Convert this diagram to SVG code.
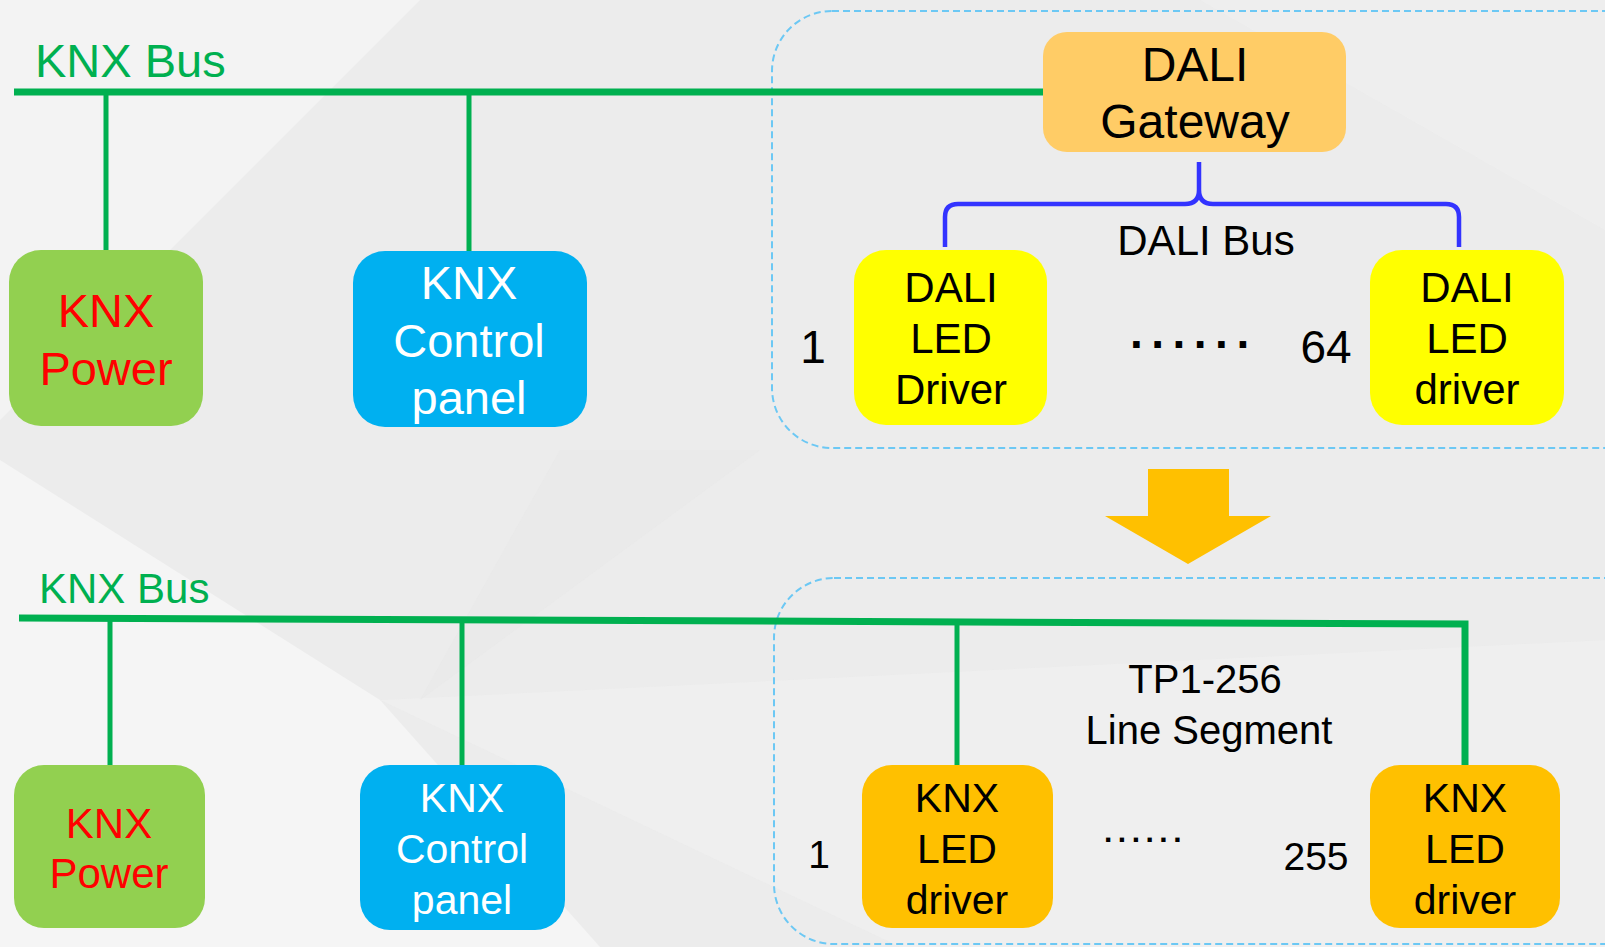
<svg xmlns="http://www.w3.org/2000/svg" width="1605" height="947" viewBox="0 0 1605 947">
<style>
text{font-family:"Liberation Sans",Arial,sans-serif;}
.bus{stroke:#00b050;stroke-width:7;fill:none;stroke-linecap:butt;}
.drop{stroke:#00b050;stroke-width:5;fill:none;}
.cont{fill:none;stroke:#6cc8f4;stroke-width:2;stroke-dasharray:7 4;}
.c{text-anchor:middle;}
.blk{fill:#000;}
.wht{fill:#fff;}
.red{fill:#ff0000;}
.grn{fill:#00b050;}
</style>
<rect width="1605" height="947" fill="#ececec"/>
<polygon points="0,0 420,0 0,420" fill="#f3f3f3"/>
<polygon points="0,460 0,947 600,947 380,700" fill="#f5f5f5"/>
<polygon points="380,700 900,947 1605,947 1605,640" fill="#f1f1f1" opacity="0.5"/>
<polygon points="560,450 760,450 420,700" fill="#e7e7e7" opacity="0.5"/>
<polygon points="760,0 1200,0 1605,230 1605,0" fill="#f0f0f0" opacity="0.7"/>
<g id="containers">
<rect class="cont" x="772" y="11" width="900" height="437" rx="60"/>
<rect class="cont" x="774" y="578" width="900" height="366" rx="60"/>
</g>
<g id="connectors">
<line class="bus" x1="14" y1="92" x2="1044" y2="92"/>
<line class="drop" x1="106" y1="92" x2="106" y2="251"/>
<line class="drop" x1="469" y1="92" x2="469" y2="252"/>
<path d="M1199,162 L1199,190 Q1199,204 1185,204 L958,204 Q945,204 945,217 L945,247 M1199,190 Q1199,204 1213,204 L1446,204 Q1459,204 1459,217 L1459,247" fill="none" stroke="#3333ff" stroke-width="4.5"/>
<polyline class="bus" points="19,618 1465,624 1465,768"/>
<line class="drop" x1="110" y1="619" x2="110" y2="766"/>
<line class="drop" x1="462" y1="620" x2="462" y2="766"/>
<line class="drop" x1="957" y1="621" x2="957" y2="766"/>
<polygon points="1148,469 1229,469 1229,516 1271,516 1188,564 1105,516 1148,516" fill="#ffc000"/>
</g>
<g id="labels">
<text class="grn" x="35" y="77" font-size="47">KNX Bus</text>
<text class="blk c" x="1206" y="255" font-size="42">DALI Bus</text>
<text class="blk c" x="813" y="363" font-size="46">1</text>
<text class="blk" x="1130" y="348" font-size="46" font-weight="bold" letter-spacing="8.5">......</text>
<text class="blk c" x="1326" y="363" font-size="46">64</text>
<text class="grn" x="39" y="603" font-size="42">KNX Bus</text>
<text class="blk c" x="1205" y="693" font-size="40">TP1-256</text>
<text class="blk c" x="1209" y="744" font-size="40">Line Segment</text>
<text class="blk c" x="819" y="868" font-size="39">1</text>
<text class="blk" x="1104" y="842" font-size="30" font-weight="bold" letter-spacing="5.5">......</text>
<text class="blk c" x="1316" y="870" font-size="39">255</text>
</g>
<g id="knx-power-1">
<rect x="9" y="250" width="194" height="176" rx="32" fill="#92d050"/>
<text class="red c" x="106" y="327" font-size="47">KNX</text>
<text class="red c" x="106" y="385" font-size="47">Power</text>
</g>
<g id="knx-control-1">
<rect x="353" y="251" width="234" height="176" rx="32" fill="#00b0f0"/>
<text class="wht c" x="469" y="299" font-size="47">KNX</text>
<text class="wht c" x="469" y="357" font-size="47">Control</text>
<text class="wht c" x="469" y="414" font-size="47">panel</text>
</g>
<g id="dali-gateway">
<rect x="1043" y="32" width="303" height="120" rx="24" fill="#ffcc66"/>
<text class="blk c" x="1195" y="81" font-size="48">DALI</text>
<text class="blk c" x="1195" y="138" font-size="48">Gateway</text>
</g>
<g id="dali-driver-1">
<rect x="854" y="250" width="193" height="175" rx="32" fill="#ffff00"/>
<text class="blk c" x="951" y="302" font-size="42">DALI</text>
<text class="blk c" x="951" y="353" font-size="42">LED</text>
<text class="blk c" x="951" y="404" font-size="42">Driver</text>
</g>
<g id="dali-driver-64">
<rect x="1370" y="250" width="194" height="175" rx="32" fill="#ffff00"/>
<text class="blk c" x="1467" y="302" font-size="42">DALI</text>
<text class="blk c" x="1467" y="353" font-size="42">LED</text>
<text class="blk c" x="1467" y="404" font-size="42">driver</text>
</g>
<g id="knx-power-2">
<rect x="14" y="765" width="191" height="163" rx="30" fill="#92d050"/>
<text class="red c" x="109" y="838" font-size="42">KNX</text>
<text class="red c" x="109" y="888" font-size="42">Power</text>
</g>
<g id="knx-control-2">
<rect x="360" y="765" width="205" height="165" rx="30" fill="#00b0f0"/>
<text class="wht c" x="462" y="812" font-size="41">KNX</text>
<text class="wht c" x="462" y="863" font-size="41">Control</text>
<text class="wht c" x="462" y="914" font-size="41">panel</text>
</g>
<g id="knx-led-driver-1">
<rect x="862" y="765" width="191" height="163" rx="30" fill="#ffc000"/>
<text class="blk c" x="957" y="812" font-size="41">KNX</text>
<text class="blk c" x="957" y="863" font-size="41">LED</text>
<text class="blk c" x="957" y="914" font-size="41">driver</text>
</g>
<g id="knx-led-driver-255">
<rect x="1370" y="765" width="190" height="163" rx="30" fill="#ffc000"/>
<text class="blk c" x="1465" y="812" font-size="41">KNX</text>
<text class="blk c" x="1465" y="863" font-size="41">LED</text>
<text class="blk c" x="1465" y="914" font-size="41">driver</text>
</g>
</svg>
